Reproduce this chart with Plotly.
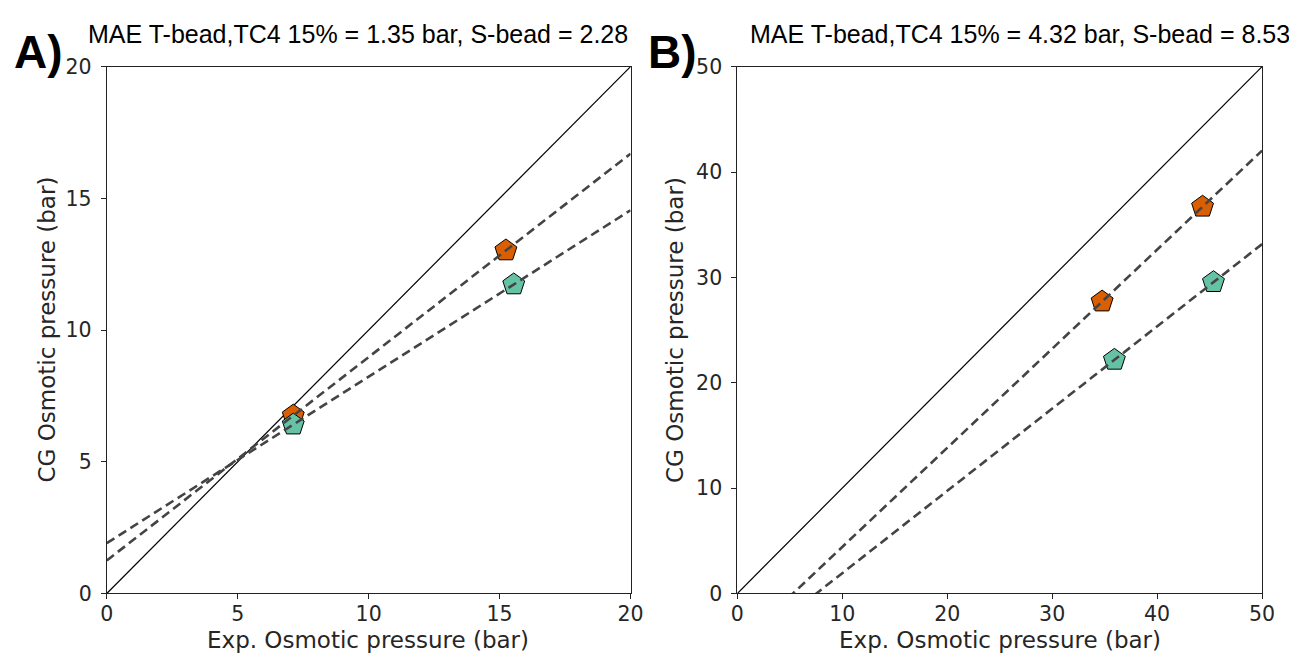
import numpy as np
import plotly.graph_objects as go

# Panel A data (bar)
a_exp_t = [7.12, 15.24]
a_cg_t = [6.75, 13.02]
a_exp_s = [7.12, 15.54]
a_cg_s = [6.41, 11.73]
# Panel B data (bar)
b_exp_t = [34.76, 44.33]
b_cg_t = [27.70, 36.70]
b_exp_s = [35.93, 45.37]
b_cg_s = [22.17, 29.54]

title_a = "MAE T-bead,TC4 15% = 1.35 bar, S-bead = 2.28"
title_b = "MAE T-bead,TC4 15% = 4.32 bar, S-bead = 8.53"
ticks_a = [0, 5, 10, 15, 20]
ticks_b = [0, 10, 20, 30, 40, 50]

ORANGE = "#d95f02"
GREEN = "#66c2a5"
W, H = 1297, 657

# map target pixel positions to paper fractions (rendered paper ~ x 13..1293, y 18..656)
def PX(X):
    return (X - 13) / 1280.0

def PY(Y):
    return 1 - (Y - 18) / 638.0

fig = go.Figure()

def add_panel(xa, ya, ex_t, cg_t, ex_s, cg_s, vmax):
    xs = np.array([0, vmax], dtype=float)
    fig.add_trace(go.Scatter(x=xs, y=xs, mode="lines", xaxis=xa, yaxis=ya,
                             line=dict(color="black", width=1.2), showlegend=False, hoverinfo="skip"))
    for ex, cg, col in [(ex_t, cg_t, ORANGE), (ex_s, cg_s, GREEN)]:
        fig.add_trace(go.Scatter(x=ex, y=cg, mode="markers", xaxis=xa, yaxis=ya,
                                 marker=dict(symbol="pentagon", size=23, color=col,
                                             line=dict(color="black", width=1)),
                                 showlegend=False, cliponaxis=False))
    for ex, cg in [(ex_t, cg_t), (ex_s, cg_s)]:
        k, b = np.polyfit(ex, cg, 1)
        fig.add_trace(go.Scatter(x=xs, y=k * xs + b, mode="lines", xaxis=xa, yaxis=ya,
                                 line=dict(color="#444444", width=2.6, dash="9px,5px"),
                                 showlegend=False, hoverinfo="skip"))

add_panel("x", "y", a_exp_t, a_cg_t, a_exp_s, a_cg_s, 20)
add_panel("x2", "y2", b_exp_t, b_cg_t, b_exp_s, b_cg_s, 50)

ax_common = dict(showgrid=False, zeroline=False, showline=True, linecolor="#222222", linewidth=1,
                 mirror=True, ticks="outside", ticklen=5, tickwidth=1, tickcolor="#222222",
                 tickfont=dict(family="DejaVu Sans", size=20.5, color="#262626"))
xax = dict(ticklabelstandoff=-3, **ax_common)
yax = dict(ticklabelstandoff=5, **ax_common)

fig.update_layout(
    width=W, height=H, margin=dict(l=0, r=0, t=0, b=0),
    plot_bgcolor="white", paper_bgcolor="white",
    xaxis=dict(domain=[PX(105), PX(630)], range=[0, 20], tickvals=ticks_a, anchor="y", **xax),
    yaxis=dict(domain=[PY(596), PY(65)], range=[0, 20], tickvals=ticks_a, anchor="x", **yax),
    xaxis2=dict(domain=[PX(737), PX(1263)], range=[0, 50], tickvals=ticks_b, anchor="y2", **xax),
    yaxis2=dict(domain=[PY(596), PY(65)], range=[0, 50], tickvals=ticks_b, anchor="x2", **yax),
)

ann = []
lab_font = dict(family="DejaVu Sans", size=23, color="#262626")
ttl_font = dict(family="Liberation Sans", size=25, color="black")
ann.append(dict(x=PX(357), y=PY(32), text=title_a, font=ttl_font))
ann.append(dict(x=PX(1020), y=PY(32), text=title_b, font=ttl_font))
ann.append(dict(x=PX(37), y=PY(50), text="<b>A)</b>", font=dict(family="Liberation Sans", size=46, color="black")))
ann.append(dict(x=PX(672), y=PY(50), text="<b>B)</b>", font=dict(family="Liberation Sans", size=46, color="black")))
ann.append(dict(x=PX(367), y=PY(643), text="Exp. Osmotic pressure (bar)", font=lab_font))
ann.append(dict(x=PX(1000), y=PY(643), text="Exp. Osmotic pressure (bar)", font=lab_font))
ann.append(dict(x=PX(45), y=PY(330), text="CG Osmotic pressure (bar)", font=lab_font, textangle=-90))
ann.append(dict(x=PX(674), y=PY(330), text="CG Osmotic pressure (bar)", font=lab_font, textangle=-90))
for a in ann:
    a.update(xref="paper", yref="paper", showarrow=False, xanchor="center", yanchor="middle")
fig.update_layout(annotations=ann)

fig.write_html("out.html")
